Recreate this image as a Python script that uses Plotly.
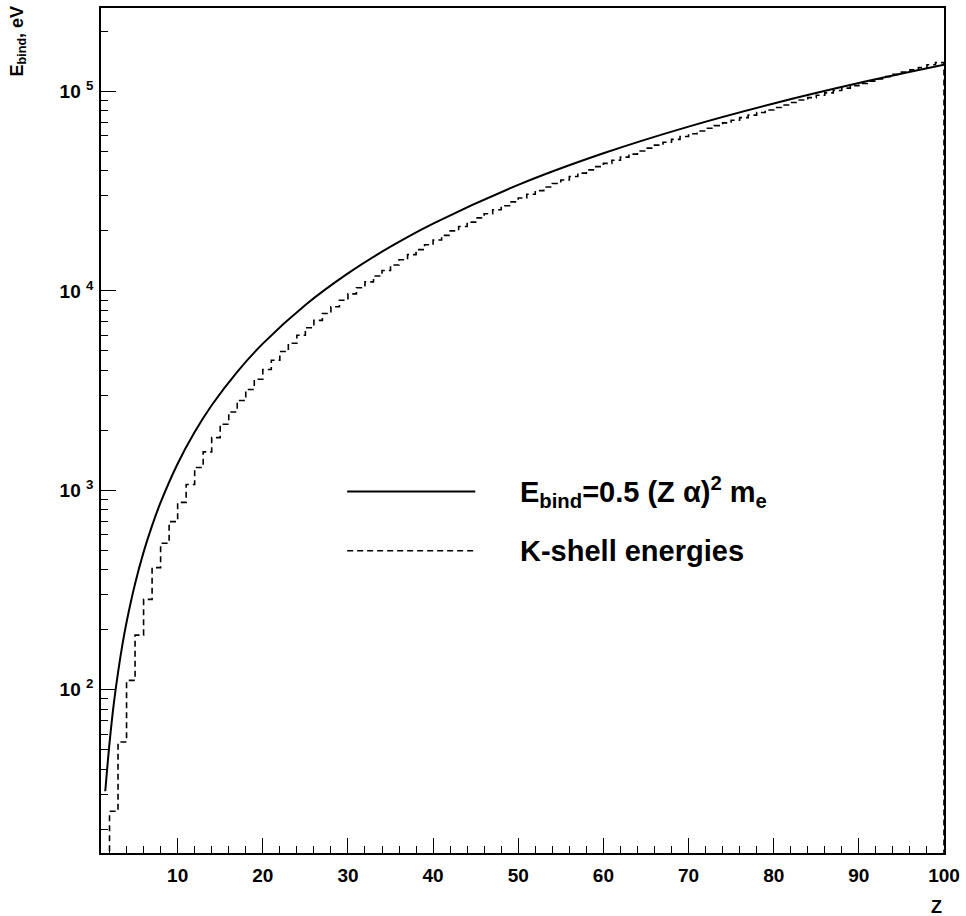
import numpy as np
import plotly.graph_objects as go

# K-shell binding energies (eV), one histogram bin [Z, Z+1] per element Z = 1..99
kshell_z = list(range(1, 100))
kshell_e = [
    13.6, 24.6, 54.7, 111.5, 188, 284.2, 409.9, 543.1, 696.7, 870.2,
    1070.8, 1303, 1559.6, 1839, 2145.5, 2472, 2822.4, 3205.9, 3608.4, 4038.5,
    4492, 4966, 5465, 5989, 6539, 7112, 7709, 8333, 8979, 9659,
    10367, 11103, 11867, 12658, 13474, 14326, 15200, 16105, 17038, 17998,
    18986, 20000, 21044, 22117, 23220, 24350, 25514, 26711, 27940, 29200,
    30491, 31814, 33169, 34561, 35985, 37441, 38925, 40443, 41991, 43569,
    45184, 46834, 48519, 50239, 51996, 53789, 55618, 57486, 59390, 61332,
    63314, 65351, 67416, 69525, 71676, 73871, 76111, 78395, 80725, 83102,
    85530, 88005, 90526, 93105, 95730, 98404, 101137, 103922, 106755, 109651,
    112601, 115606, 118678, 121818, 125027, 128220, 131590, 135960, 139490,
]

# smooth curve E_bind = 0.5 (Z alpha)^2 m_e
curve_z = [1.5, 2, 2.5, 3, 3.5, 4, 5, 6, 7, 8, 10, 12, 14, 17, 20, 25, 30,
           35, 40, 50, 60, 70, 80, 90, 100]
curve_e = [31, 54, 85, 122, 167, 218, 340, 490, 666, 870, 1360, 1960, 2670,
           3930, 5440, 8500, 12240, 16660, 21760, 34000, 48960, 66640, 87040,
           110160, 136000]

x_range = [1, 100]
y_range = [15.2, 2.62e5]
y_major = [1e2, 1e3, 1e4, 1e5]
y_major_text = ["10 <sup>2</sup>", "10 <sup>3</sup>", "10 <sup>4</sup>", "10 <sup>5</sup>"]
x_major = [10, 20, 30, 40, 50, 60, 70, 80, 90, 100]

FONT = "Liberation Sans"

# step outline of the histogram, dropping to the floor at the last edge
hx = kshell_z + [kshell_z[-1] + 1, kshell_z[-1] + 1]
hy = kshell_e + [kshell_e[-1], y_range[0] / 10]

fig = go.Figure()
fig.add_trace(go.Scatter(x=hx, y=hy, mode="lines", line_shape="hv",
                         line=dict(color="black", width=1.6, dash="6px,4px")))
fig.add_trace(go.Scatter(x=curve_z, y=curve_e, mode="lines", line_shape="spline",
                         line=dict(color="black", width=2)))

y_minor = [m * 10 ** d for d in range(1, 6) for m in range(2, 10)
           if y_range[0] <= m * 10 ** d <= y_range[1]]
x_minor = [v for v in range(2, 100, 2) if v % 10]

fig.update_layout(
    width=966, height=916,
    margin=dict(l=101, r=19, t=6, b=63),
    plot_bgcolor="white", paper_bgcolor="white",
    showlegend=False,
    xaxis=dict(range=x_range, showline=True, linecolor="black", linewidth=1.5,
               mirror=True, ticks="inside", ticklen=15, tickwidth=1.2,
               tickcolor="black", tickvals=x_major, showgrid=False,
               zeroline=False, ticklabelstandoff=4,
               tickfont=dict(family=FONT, size=19, color="black", weight="bold"),
               minor=dict(tickvals=x_minor, ticks="inside", ticklen=7.5,
                          tickwidth=1.2, tickcolor="black", showgrid=False)),
    yaxis=dict(type="log", range=[np.log10(y_range[0]), np.log10(y_range[1])],
               showline=True, linecolor="black", linewidth=1.5, mirror=True,
               ticks="inside", ticklen=15, tickwidth=1.2, tickcolor="black",
               tickvals=y_major, ticktext=y_major_text, showgrid=False,
               zeroline=False, ticklabelstandoff=2,
               tickfont=dict(family=FONT, size=19, color="black", weight="bold"),
               minor=dict(tickvals=y_minor, ticks="inside", ticklen=7.5,
                          tickwidth=1.2, tickcolor="black", showgrid=False)),
)

# axis titles in ROOT style
fig.add_annotation(text="Z", xref="paper", yref="paper", x=1, y=0,
                   xanchor="right", yanchor="top", yshift=-42, showarrow=False,
                   font=dict(family=FONT, size=18, color="black", weight="bold"))
fig.add_annotation(text="E<sub>bind</sub>, eV", xref="paper", yref="paper",
                   x=0, y=1, xanchor="center", yanchor="top", xshift=-83,
                   yshift=4, textangle=-90, showarrow=False,
                   font=dict(family=FONT, size=18, color="black", weight="bold"))

# legend drawn by hand
leg_rows = [
    ("E<sub>bind</sub>=0.5 (Z α)<sup>2</sup> m<sub>e</sub>", "solid", 0.4277),
    ("K-shell energies", "6px,4px", 0.3577),
]
for text, dash, yy in leg_rows:
    fig.add_shape(type="line", xref="paper", yref="paper",
                  x0=0.292, x1=0.444, y0=yy, y1=yy,
                  line=dict(color="black", width=2 if dash == "solid" else 1.6, dash=dash))
    fig.add_annotation(text=text, xref="paper", yref="paper", x=0.495, y=yy,
                       xanchor="left", yanchor="middle", showarrow=False,
                       font=dict(family=FONT, size=29, color="black", weight="bold"))

fig.write_html("out.html", config={"displayModeBar": False},
               post_script="document.body.style.margin='0';"
                           "document.body.style.overflow='hidden';")
